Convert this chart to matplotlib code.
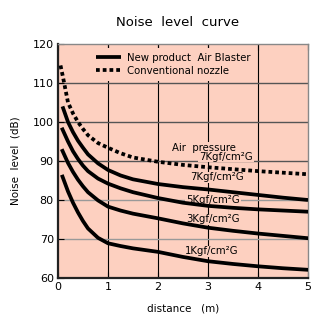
import matplotlib
matplotlib.use("Agg")
import matplotlib.pyplot as plt

# ---- data ----
x_conv = [0.05, 0.1, 0.2, 0.3, 0.4, 0.5, 0.6, 0.8, 1.0, 1.25, 1.5, 2.0, 2.5, 3.0, 3.5, 4.0, 4.5, 5.0]
conv_7k = [114.5, 111.5, 105.0, 102.2, 100.0, 98.2, 96.6, 94.6, 93.4, 92.0, 90.9, 89.8, 89.0, 88.4, 87.9, 87.4, 87.0, 86.6]

x_new = [0.09, 0.2, 0.3, 0.4, 0.5, 0.6, 0.8, 1.0, 1.25, 1.5, 2.0, 2.5, 3.0, 3.5, 4.0, 4.5, 5.0]
new_7k = [104.0, 100.0, 97.4, 95.2, 93.4, 91.7, 89.4, 87.7, 86.3, 85.3, 84.1, 83.3, 82.7, 82.0, 81.3, 80.6, 80.0]
new_5k = [98.1, 95.0, 92.5, 90.5, 88.8, 87.4, 85.5, 84.2, 83.0, 82.0, 80.5, 79.3, 78.5, 78.0, 77.6, 77.3, 77.0]
new_3k = [92.6, 89.5, 87.2, 85.2, 83.5, 82.0, 79.9, 78.3, 77.3, 76.5, 75.3, 74.0, 72.9, 72.1, 71.4, 70.8, 70.2]
new_1k = [86.0, 82.2, 79.3, 76.8, 74.6, 72.7, 70.3, 68.9, 68.2, 67.6, 66.7, 65.4, 64.3, 63.6, 63.0, 62.5, 62.1]

x_ticks = [0, 1, 2, 3, 4, 5]
y_ticks = [60, 70, 80, 90, 100, 110, 120]

curve_labels = ["7Kgf/cm²G", "5Kgf/cm²G", "3Kgf/cm²G", "1Kgf/cm²G"]
label_pos = [(3.18, 85.8), (3.1, 80.0), (3.1, 75.0), (3.08, 66.8)]

BG = "#fdd0c0"

plt.rcParams['font.family'] = ['DejaVu Sans']
fig = plt.figure(figsize=(3.11, 3.18), dpi=100)
fig.patch.set_facecolor("white")
ax = fig.add_axes([58/311, 1-278/318, 250/311, 234/318])
ax.set_facecolor(BG)

ax.set_xlim(0, 5)
ax.set_ylim(60, 120)
ax.set_xticks(x_ticks)
ax.set_yticks(y_ticks)
ax.tick_params(direction="in", length=4, width=0.8, top=True, right=False,
               labelsize=8, pad=3)

# grid
for xv in x_ticks[1:-1]:
    ax.axvline(xv, color="black", lw=0.8, zorder=1)
for yv in y_ticks[1:-1]:
    c = "#999999" if yv < 90 else "#555555"
    ax.axhline(yv, color=c, lw=1.0, zorder=1)

for s in ["left", "bottom"]:
    ax.spines[s].set_linewidth(1.6)
    ax.spines[s].set_color("#222222")
for s in ["top", "right"]:
    ax.spines[s].set_linewidth(1.0)
    ax.spines[s].set_color("#888888")

LW = 2.7
l1, = ax.plot(x_new, new_7k, color="black", lw=LW, solid_capstyle="butt", zorder=3,
              label="New product  Air Blaster")
ax.plot(x_new, new_5k, color="black", lw=LW, zorder=3)
ax.plot(x_new, new_3k, color="black", lw=LW, zorder=3)
ax.plot(x_new, new_1k, color="black", lw=LW, zorder=3)
l2, = ax.plot(x_conv, conv_7k, color="black", lw=2.7, linestyle=(0, (1.0, 0.8)),
              dash_capstyle="butt", zorder=3, label="Conventional nozzle")

leg = ax.legend(handles=[l1, l2], loc="upper left", bbox_to_anchor=(0.13, 0.985),
                frameon=True, fontsize=7.3, handlelength=2.5, handletextpad=0.6,
                labelspacing=0.3, borderpad=0.5, borderaxespad=0)
leg.get_frame().set_facecolor(BG)
leg.get_frame().set_edgecolor("none")
leg.get_frame().set_alpha(1)
leg.set_zorder(5)

tb = dict(facecolor=BG, edgecolor="none", pad=0.5)
ax.text(2.28, 93.4, "Air  pressure", fontsize=7.3, ha="left", va="center", bbox=tb, zorder=2)
ax.text(3.36, 91.1, "7Kgf/cm²G", fontsize=7.3, ha="center", va="center", bbox=tb, zorder=2)
for lab, (lx, ly) in zip(curve_labels, label_pos):
    ax.text(lx, ly, lab, fontsize=7.3, ha="center", va="center", bbox=tb, zorder=2)

ax.set_xlabel("distance   (m)", fontsize=7.5, labelpad=8)
ax.set_ylabel("Noise  level  (dB)", fontsize=7.5, labelpad=9)
fig.text(178/311, 1-22/318, "Noise  level  curve", fontsize=9.5, ha="center", va="center")

fig.savefig("out.png", dpi=100)
